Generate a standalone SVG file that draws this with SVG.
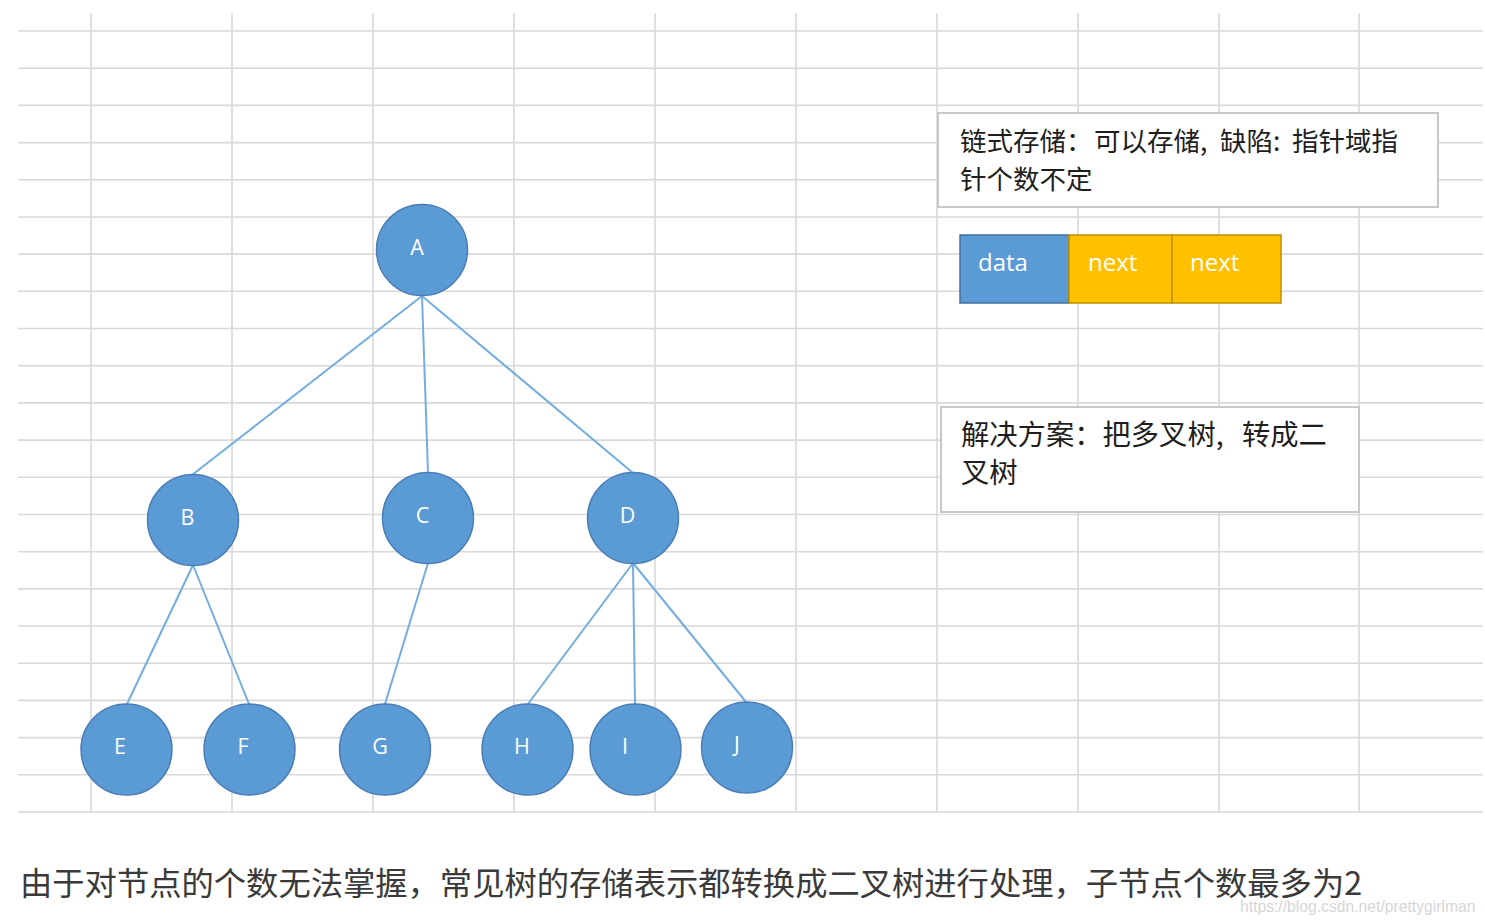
<svg xmlns="http://www.w3.org/2000/svg" width="1485" height="923" viewBox="0 0 1485 923">
<style>
.grid line{stroke:#d9d9d9;stroke-width:1.6}
.node circle{fill:#5b9bd5;stroke:#4a7db5;stroke-width:1.5}
.node text{fill:#ffffff;font-family:"Open Sans","Liberation Sans",sans-serif;font-size:21.5px;text-anchor:middle}
.edges line{stroke:#74addf;stroke-width:2}
.box rect{fill:#ffffff;stroke:#c8c8c8;stroke-width:2}
.box text{fill:#1e1e1e;font-family:"Noto Sans CJK SC",sans-serif}
.cell text{fill:#ffffff;font-family:"Open Sans","Liberation Sans",sans-serif;font-size:24px}
</style>
<rect x="0" y="0" width="1485" height="923" fill="#ffffff"/>
<g class="grid">
<line x1="18" y1="31" x2="1483" y2="31"/>
<line x1="18" y1="68.2" x2="1483" y2="68.2"/>
<line x1="18" y1="105.4" x2="1483" y2="105.4"/>
<line x1="18" y1="142.6" x2="1483" y2="142.6"/>
<line x1="18" y1="179.8" x2="1483" y2="179.8"/>
<line x1="18" y1="217" x2="1483" y2="217"/>
<line x1="18" y1="254.1" x2="1483" y2="254.1"/>
<line x1="18" y1="291.3" x2="1483" y2="291.3"/>
<line x1="18" y1="328.5" x2="1483" y2="328.5"/>
<line x1="18" y1="365.7" x2="1483" y2="365.7"/>
<line x1="18" y1="402.9" x2="1483" y2="402.9"/>
<line x1="18" y1="440.1" x2="1483" y2="440.1"/>
<line x1="18" y1="477.3" x2="1483" y2="477.3"/>
<line x1="18" y1="514.5" x2="1483" y2="514.5"/>
<line x1="18" y1="551.7" x2="1483" y2="551.7"/>
<line x1="18" y1="588.9" x2="1483" y2="588.9"/>
<line x1="18" y1="626" x2="1483" y2="626"/>
<line x1="18" y1="663.2" x2="1483" y2="663.2"/>
<line x1="18" y1="700.4" x2="1483" y2="700.4"/>
<line x1="18" y1="737.6" x2="1483" y2="737.6"/>
<line x1="18" y1="774.8" x2="1483" y2="774.8"/>
<line x1="18" y1="812" x2="1483" y2="812"/>
<line x1="91" y1="13" x2="91" y2="812"/>
<line x1="232" y1="13" x2="232" y2="812"/>
<line x1="373" y1="13" x2="373" y2="812"/>
<line x1="514" y1="13" x2="514" y2="812"/>
<line x1="655" y1="13" x2="655" y2="812"/>
<line x1="796" y1="13" x2="796" y2="812"/>
<line x1="937" y1="13" x2="937" y2="812"/>
<line x1="1078" y1="13" x2="1078" y2="812"/>
<line x1="1219" y1="13" x2="1219" y2="812"/>
<line x1="1359" y1="13" x2="1359" y2="812"/>
</g>
<g class="edges">
<line x1="422" y1="296" x2="192" y2="475"/>
<line x1="422" y1="296" x2="428" y2="473"/>
<line x1="422" y1="296" x2="633" y2="473"/>
<line x1="193" y1="565" x2="127" y2="704"/>
<line x1="193" y1="565" x2="249" y2="704"/>
<line x1="428" y1="563" x2="385" y2="704"/>
<line x1="633" y1="563" x2="528" y2="704"/>
<line x1="633" y1="563" x2="635" y2="704"/>
<line x1="633" y1="563" x2="746" y2="702"/>
</g>
<g id="node-A" class="node"><circle cx="422" cy="250" r="45.5"/><text x="417" y="255">A</text></g>
<g id="node-B" class="node"><circle cx="193" cy="520" r="45.5"/><text x="187.5" y="525">B</text></g>
<g id="node-C" class="node"><circle cx="428" cy="518" r="45.5"/><text x="422.5" y="523">C</text></g>
<g id="node-D" class="node"><circle cx="633" cy="518" r="45.5"/><text x="627.5" y="523">D</text></g>
<g id="node-E" class="node"><circle cx="126.5" cy="749.5" r="45.5"/><text x="120" y="754">E</text></g>
<g id="node-F" class="node"><circle cx="249.5" cy="749.5" r="45.5"/><text x="243" y="754">F</text></g>
<g id="node-G" class="node"><circle cx="385" cy="749.5" r="45.5"/><text x="380" y="754">G</text></g>
<g id="node-H" class="node"><circle cx="527.5" cy="749.5" r="45.5"/><text x="522" y="754">H</text></g>
<g id="node-I" class="node"><circle cx="635.5" cy="749.5" r="45.5"/><text x="625" y="754">I</text></g>
<g id="node-J" class="node"><circle cx="747" cy="747.5" r="45.5"/><text x="737" y="752">J</text></g>
<g id="box-linked" class="box">
<rect x="938" y="113" width="500" height="94"/>
<text font-size="26.5" y="151"><tspan x="960">链式存储：</tspan><tspan x="1094">可以存储,</tspan><tspan x="1220">缺陷:</tspan><tspan x="1292">指针域指</tspan></text>
<text font-size="26.5" x="960" y="189">针个数不定</text>
</g>
<g id="node-cells" class="cell">
<rect x="960" y="235" width="109" height="68" fill="#5b9bd5" stroke="#41719c" stroke-width="1.5"/>
<rect x="1069" y="235" width="103" height="68" fill="#ffc000" stroke="#bf9000" stroke-width="1.5"/>
<rect x="1172" y="235" width="109" height="68" fill="#ffc000" stroke="#bf9000" stroke-width="1.5"/>
<text x="978" y="271">data</text>
<text x="1088" y="271">next</text>
<text x="1190" y="271">next</text>
</g>
<g id="box-solution" class="box">
<rect x="941" y="407" width="418" height="105"/>
<text font-size="28.3" y="445"><tspan x="961">解决方案：把多叉树,</tspan><tspan x="1242">转成二</tspan></text>
<text font-size="28.3" x="961" y="483">叉树</text>
</g>
<text x="20" y="895" font-family="Noto Sans CJK SC,sans-serif" font-size="32.3" fill="#3a3a3a">由于对节点的个数无法掌握，常见树的存储表示都转换成二叉树进行处理，子节点个数最多为2</text>
<text x="1240" y="912" font-family="Liberation Sans,Arial,sans-serif" font-size="15.7" fill="#d6d6d6">https://blog.csdn.net/prettygirlman</text>
</svg>
